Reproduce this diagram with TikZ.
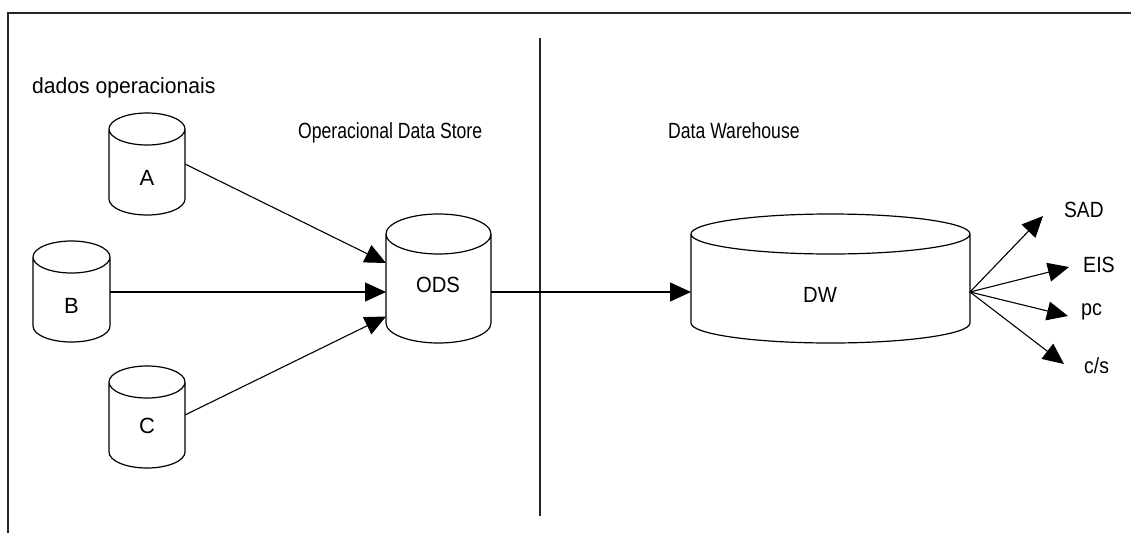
\documentclass[tikz,border=0pt]{standalone}
\usepackage{fontspec}
\setmainfont{Liberation Sans}
\usetikzlibrary{arrows.meta,calc}
\tikzset{
  cylline/.style={draw=black, line width=1.2pt},
  cylbox/.style={draw=none, inner sep=0pt, outer sep=0pt, rectangle},
  lbl/.style={inner sep=0pt, anchor=base, font=\fontsize{22}{26}\selectfont},
  lblw/.style={inner sep=0pt, anchor=base west, font=\fontsize{22}{26}\selectfont},
  arr/.style={draw=black, line width=1.1pt, -{Triangle[length=21pt,width=19pt]}},
  frame/.style={draw=black!85, line width=2pt},
}
\newcommand\dbcyl[6]{%
  \node[cylbox, minimum width=#4pt, minimum height=#5pt] (#1) at (#2,#3) {};
  \path (#1.north west) ++(0,#6) coordinate (#1-tl);
  \path (#1.north east) ++(0,#6) coordinate (#1-tr);
  \path (#1.south west) ++(0,-#6) coordinate (#1-bl);
  \path (#1.south east) ++(0,-#6) coordinate (#1-br);
  \pgfmathsetmacro\cylrx{#4/2}
  \draw[cylline] (#1-tl) -- (#1-bl)
    arc[start angle=180, end angle=360, x radius=\cylrx pt, y radius=#6pt]
    -- (#1-tr)
    arc[start angle=0, end angle=180, x radius=\cylrx pt, y radius=#6pt]
    arc[start angle=180, end angle=360, x radius=\cylrx pt, y radius=#6pt];
}
\begin{document}
\begin{tikzpicture}[x=1pt,y=-1pt]
\useasboundingbox[fill=white] (0,0) rectangle (1131,533);
% frame and divider
\coordinate (fbl) at (8,533);
\coordinate (ftl) at (8,13);
\coordinate (ftr) at (1131,13);
\draw[frame] (fbl) -- (ftl) -- (ftr);
\coordinate (dtop) at (540,38);
\coordinate (dbot) at (540,516);
\draw[draw=black!85, line width=1.6pt] (dtop) -- (dbot);

% titles
\node[lblw] (t1) at (32,93) {\scalebox{0.96}[1]{dados operacionais}};
\node[lblw] (t2) at (298,138) {\scalebox{0.8}[1]{Operacional Data Store}};
\node[lblw] (t3) at (668,138) {\scalebox{0.8}[1]{Data Warehouse}};

% cylinders
\dbcyl{A}{147}{164}{76}{102}{16}
\dbcyl{B}{71.5}{291.5}{77}{101}{16}
\dbcyl{C}{147}{417}{76}{102}{16}
\dbcyl{ODS}{438.5}{278.5}{105}{129}{20}
\dbcyl{DW}{830.5}{278.5}{279}{129}{20}

\node[lbl] (A-t) at (147,185) {A};
\node[lbl] (B-t) at (71.5,313) {B};
\node[lbl] (C-t) at (147,433) {C};
\node[lbl] (ODS-t) at (438,292) {\scalebox{0.92}[1]{ODS}};
\node[lbl] (DW-t) at (820,302) {\scalebox{0.92}[1]{DW}};

% connectors into ODS
\draw[arr] (A.east) -- ([yshift=15.5pt]ODS.west);
\draw[arr] ([yshift=-0.5pt]B.east) -- ([yshift=-13.5pt]ODS.west);
\draw[arr] ([yshift=2pt]C.east) -- ([yshift=-38pt]ODS.west);
% ODS to DW
\draw[arr] ([yshift=-13.5pt]ODS.east) -- ([yshift=-13.5pt]DW.west);

% outputs
\coordinate (DWo) at ([yshift=-13.5pt]DW.east);
\coordinate (sad) at (1043,216);
\coordinate (eis) at (1069,267);
\coordinate (pc) at (1068,316);
\coordinate (cs) at (1064,364);
\draw[arr] (DWo) -- (sad);
\draw[arr] (DWo) -- (eis);
\draw[arr] (DWo) -- (pc);
\draw[arr] (DWo) -- (cs);

\node[lblw] (sad-t) at (1064,217) {\scalebox{0.87}[1]{SAD}};
\node[lblw] (eis-t) at (1083,272) {\scalebox{0.89}[1]{EIS}};
\node[lblw] (pc-t) at (1081,315) {\scalebox{0.9}[1]{pc}};
\node[lblw] (cs-t) at (1084,373) {\scalebox{0.88}[1]{c/s}};
\end{tikzpicture}
\end{document}
